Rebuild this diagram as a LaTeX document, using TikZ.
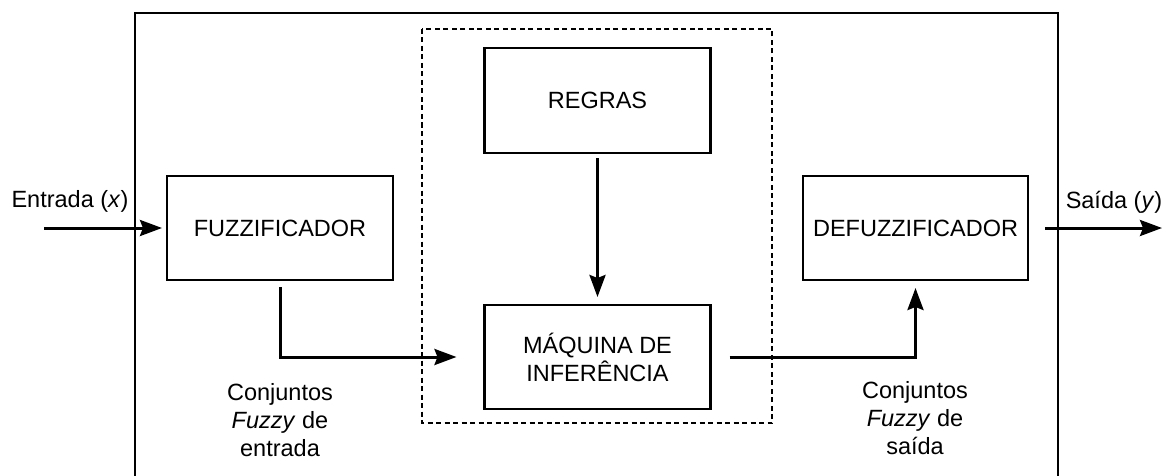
\documentclass[tikz,border=0pt]{standalone}
\usepackage{fontspec}
\setmainfont{Liberation Sans}
\usetikzlibrary{arrows.meta,calc}
\begin{document}
\begin{tikzpicture}[x=1pt,y=-1pt,
  every node/.style={font=\fontsize{23.5}{28}\selectfont},
  blockbox/.style={draw,line width=2.6pt,inner sep=0pt,outer sep=0pt,align=center,minimum width=226pt,minimum height=104pt},
  flow/.style={line width=3pt,-{Stealth[length=22pt,width=16pt,inset=3pt]}},
  lbl/.style={align=center,inner sep=0pt}]
\useasboundingbox (0,0) rectangle (1166,476);
% outer frame (open at bottom)
\draw[line width=1.6pt] (135,480) -- (135,13) -- (1058,13) -- (1058,480);
% dashed inference area
\draw[line width=1.3pt,dash pattern=on 5pt off 3.5pt] (422,29) rectangle (772,423);
% blocks
\node[blockbox] (fuzz) at (280,228) {FUZZIFICADOR};
\node[blockbox,minimum height=105pt] (regras) at (597.5,100.5) {REGRAS};
\node[blockbox] (maq) at (597.5,357) {MÁQUINA DE\\INFERÊNCIA};
\node[blockbox,minimum width=225pt] (defuzz) at (915.5,228) {DEFUZZIFICADOR};
% free ends
\coordinate (inStart) at (44,228);
\coordinate (outEnd) at (1162,228);
% connectors
\draw[flow,shorten >=5pt] (inStart) -- (fuzz.west);
\draw[flow,shorten <=7pt,shorten >=28pt] (fuzz.south) |- (maq.west);
\draw[flow,shorten <=5pt,shorten >=8pt] (regras.south) -- (maq.north);
\draw[flow,shorten <=19pt,shorten >=8pt] (maq.east) -| (defuzz.south);
\draw[flow,shorten <=17pt] (defuzz.east) -- (outEnd);
% labels
\node[lbl] (lin) at (70,201) {Entrada (\textit{x})};
\node[lbl] (lout) at (1114,202) {Saída (\textit{y})};
\node[lbl] (cin) at (280,420) {Conjuntos\\\textit{Fuzzy} de\\entrada};
\node[lbl] (cout) at (915,418) {Conjuntos\\\textit{Fuzzy} de\\saída};
\end{tikzpicture}
\end{document}
